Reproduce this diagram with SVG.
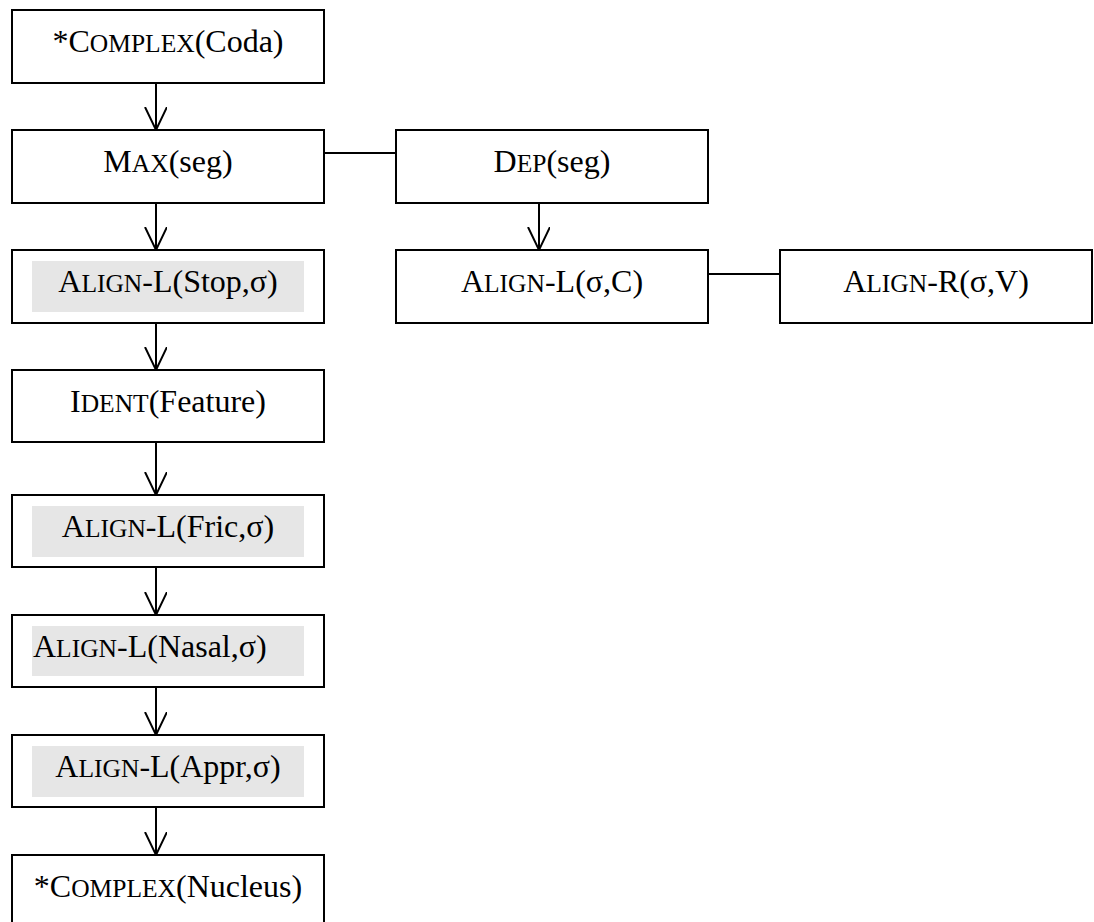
<svg xmlns="http://www.w3.org/2000/svg" width="1094" height="922" viewBox="0 0 1094 922">
<style>
.box{fill:#fff;stroke:#000;stroke-width:2}
.hl{fill:#e6e6e6;stroke:none}
.t{font-family:"Liberation Serif","Times New Roman",serif;font-size:32px;fill:#000;text-anchor:middle}
.ts{text-anchor:start}
.sc{font-size:25.5px}
.c{stroke:#000;stroke-width:2;fill:none}
</style>
<defs>
<marker id="v" markerUnits="userSpaceOnUse" markerWidth="30" markerHeight="30" refX="23" refY="11" orient="auto" viewBox="0 0 30 30">
<path d="M0,0 L23,11 L0,22" fill="none" stroke="#000" stroke-width="2"/>
</marker>
</defs>
<rect width="1094" height="922" fill="#fff"/>
<g id="connectors">
<line class="c" x1="156" y1="83" x2="156" y2="130" marker-end="url(#v)"/>
<line class="c" x1="156" y1="203" x2="156" y2="250" marker-end="url(#v)"/>
<line class="c" x1="156" y1="323" x2="156" y2="370" marker-end="url(#v)"/>
<line class="c" x1="156" y1="442" x2="156" y2="495" marker-end="url(#v)"/>
<line class="c" x1="156" y1="567" x2="156" y2="615" marker-end="url(#v)"/>
<line class="c" x1="156" y1="687" x2="156" y2="735" marker-end="url(#v)"/>
<line class="c" x1="156" y1="807" x2="156" y2="855" marker-end="url(#v)"/>
<line class="c" x1="539" y1="203" x2="539" y2="250" marker-end="url(#v)"/>
<line class="c" x1="324" y1="153" x2="396" y2="153"/>
<line class="c" x1="708" y1="274" x2="780" y2="274"/>
</g>
<g id="n1"><rect class="box" x="12" y="10" width="312" height="73"/><text class="t" x="168" y="52">*C<tspan class="sc">OMPLEX</tspan>(Coda)</text></g>
<g id="n2"><rect class="box" x="12" y="130" width="312" height="73"/><text class="t" x="168" y="172">M<tspan class="sc">AX</tspan>(seg)</text></g>
<g id="n3"><rect class="box" x="396" y="130" width="312" height="73"/><text class="t" x="552" y="172">D<tspan class="sc">EP</tspan>(seg)</text></g>
<g id="n4"><rect class="box" x="12" y="250" width="312" height="73"/><rect class="hl" x="32" y="261" width="272" height="51"/><text class="t" x="168" y="292">A<tspan class="sc">LIGN</tspan>-L(Stop,σ)</text></g>
<g id="n5"><rect class="box" x="396" y="250" width="312" height="73"/><text class="t" x="552" y="292">A<tspan class="sc">LIGN</tspan>-L(σ,C)</text></g>
<g id="n6"><rect class="box" x="780" y="250" width="312" height="73"/><text class="t" x="936" y="292">A<tspan class="sc">LIGN</tspan>-R(σ,V)</text></g>
<g id="n7"><rect class="box" x="12" y="370" width="312" height="72"/><text class="t" x="168" y="412">I<tspan class="sc">DENT</tspan>(Feature)</text></g>
<g id="n8"><rect class="box" x="12" y="495" width="312" height="72"/><rect class="hl" x="32" y="506" width="272" height="51"/><text class="t" x="168" y="537">A<tspan class="sc">LIGN</tspan>-L(Fric,σ)</text></g>
<g id="n9"><rect class="box" x="12" y="615" width="312" height="72"/><rect class="hl" x="32" y="626" width="272" height="50"/><text class="t ts" x="33" y="657">A<tspan class="sc">LIGN</tspan>-L(Nasal,σ)</text></g>
<g id="n10"><rect class="box" x="12" y="735" width="312" height="72"/><rect class="hl" x="32" y="746" width="272" height="51"/><text class="t" x="168" y="777">A<tspan class="sc">LIGN</tspan>-L(Appr,σ)</text></g>
<g id="n11"><rect class="box" x="12" y="855" width="312" height="73"/><text class="t" x="168" y="897">*C<tspan class="sc">OMPLEX</tspan>(Nucleus)</text></g>
</svg>
